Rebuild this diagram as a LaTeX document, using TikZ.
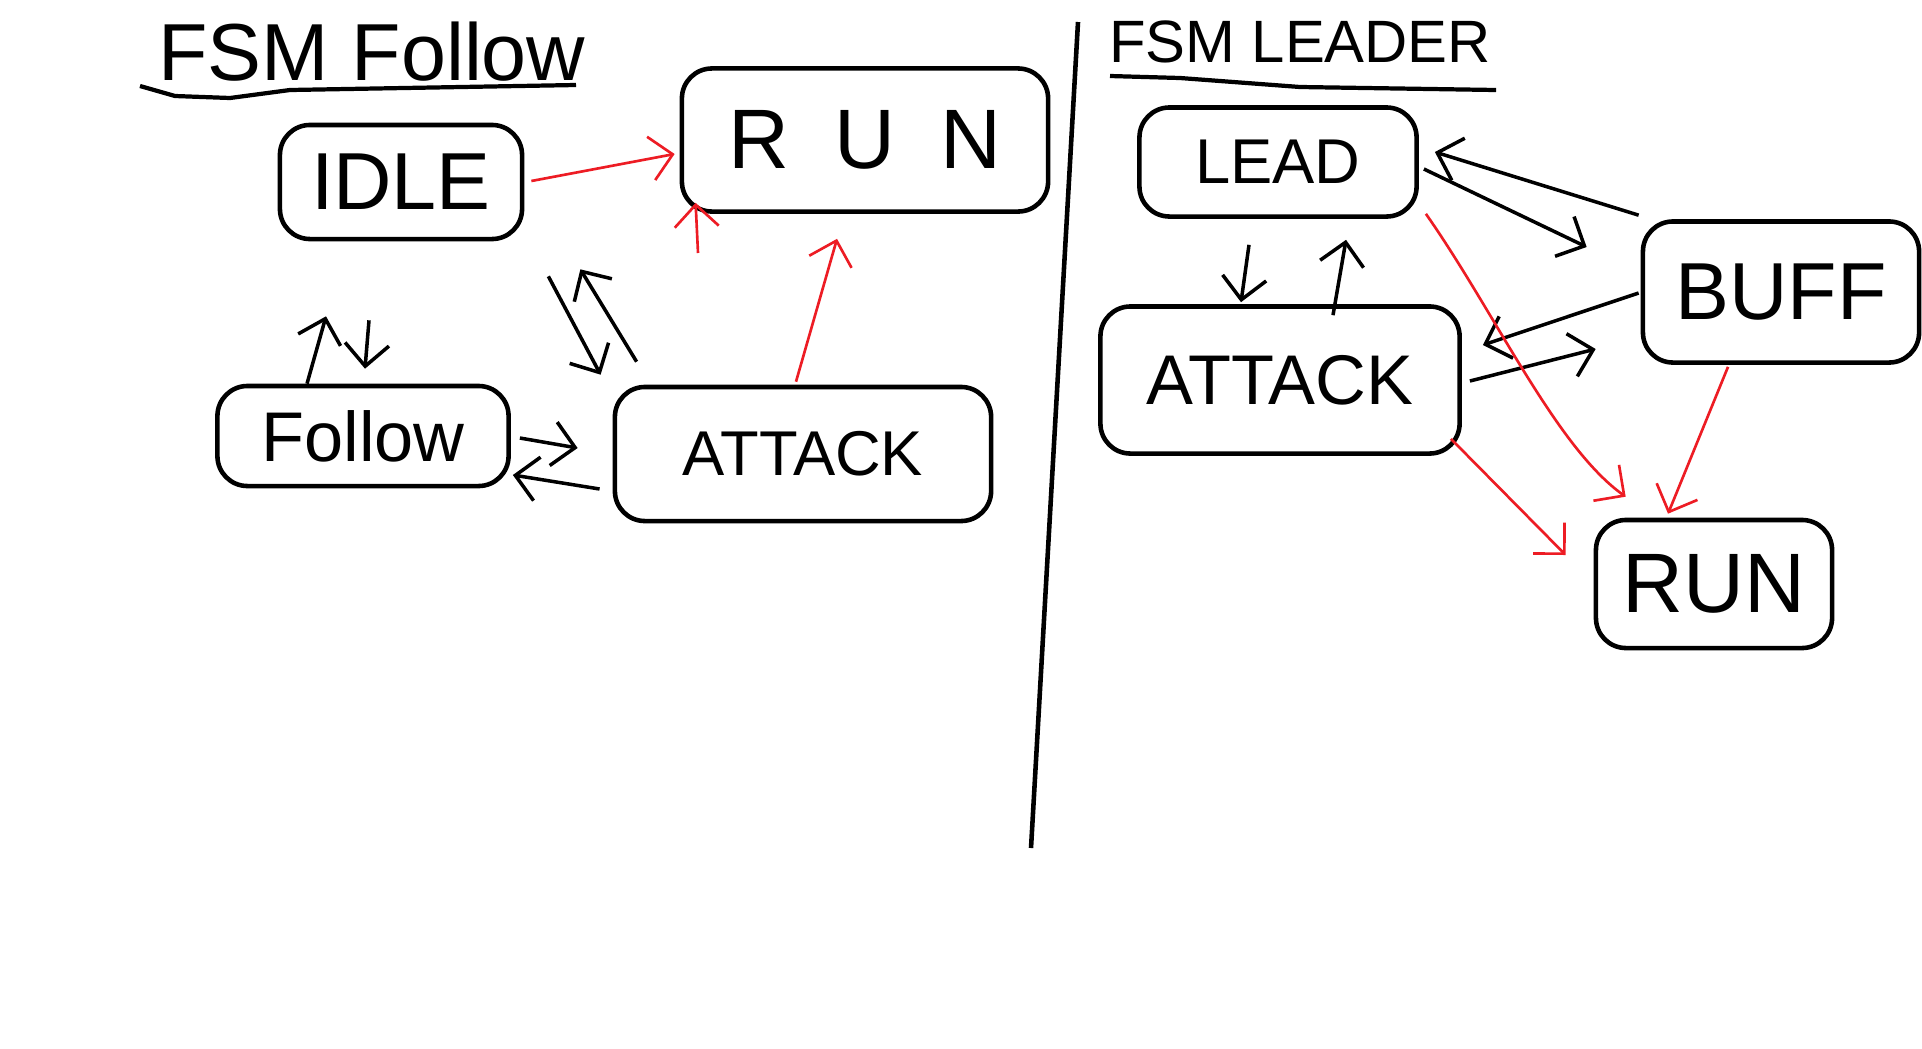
\documentclass[tikz,border=0pt]{standalone}
\usepackage{fontspec}
\setmainfont{Liberation Sans}
\usetikzlibrary{arrows.meta,calc,positioning}
\definecolor{paintred}{RGB}{237,28,36}
\newcommand{\handfont}[1]{\fontsize{#1}{#1}\selectfont}
\tikzset{
	state/.style={draw, line width=1.3pt, rounded corners=0.3cm, inner sep=0pt},
	pen/.style={line width=1pt, -{Straight Barb[length=2.2mm,width=4.4mm]}},
	redpen/.style={pen, draw=paintred, line width=0.75pt},
	rule/.style={line width=1.2pt}
}

\begin{document}
\begin{tikzpicture}[x=0.01cm, y=-0.01cm]
	\path[fill=white] (0,0) rectangle (1922,1048);

	% follower machine
	\node[font=\handfont{23}] (titleF) at (372,52) {FSM Follow};
	\draw[rule] (140,86) -- (175,96) -- (230,98) -- (290,90) -- (576,85);

	\node[state, minimum width=2.42cm, minimum height=1.14cm, font=\handfont{23}] (idle) at (401,182) {IDLE};
	\node[state, minimum width=3.66cm, minimum height=1.43cm, font=\handfont{24}\addfontfeature{LetterSpace=54}] (runF) at (865,140) {RUN};
	\node[state, minimum width=2.91cm, minimum height=1.00cm, font=\handfont{20}] (follow) at (363,436) {Follow};
	\node[state, minimum width=3.76cm, minimum height=1.34cm, font=\handfont{18}] (attackF) at (803,454) {ATTACK};

	\coordinate (stub) at (698,253);
	\draw[redpen] ($(idle.east)+(7,-1)$) -- ($(runF.west)+(-5,14)$);
	\draw[redpen] (stub) -- ($(runF.south west)+(16,-11)$);
	\draw[redpen] ($(attackF.north)+(-7,-3)$) -- ($(runF.south)+(-28,25)$);
	\draw[pen] ($(idle.south east)+(24,35)$) -- ($(attackF.north west)+(-12,-10)$);
	\draw[pen] ($(attackF.north west)+(24,-23)$) -- ($(idle.south east)+(56,28)$);
	\draw[pen] ($(follow.north)+(-56,0)$) -- ($(idle.south)+(-75,75)$);
	\draw[pen] ($(idle.south)+(-32,79)$) -- ($(follow.north)+(2,-15)$);
	\draw[pen] ($(follow.east)+(9,2)$) -- ($(attackF.west)+(-35,-6)$);
	\draw[pen] ($(attackF.west)+(-13,35)$) -- ($(follow.east)+(2,39)$);

	\draw[line width=1.3pt] (1078,22) -- (1031,848);

	% leader machine
	\node[font=\handfont{17}] (titleL) at (1300,42) {FSM LEADER};
	\draw[rule] (1110,76) -- (1180,78) -- (1300,87) -- (1496,90);

	\node[state, minimum width=2.77cm, minimum height=1.09cm, font=\handfont{18}] (lead) at (1278,162) {LEAD};
	\node[state, minimum width=2.76cm, minimum height=1.41cm, font=\handfont{23}] (buff) at (1781,292) {BUFF};
	\node[state, minimum width=3.59cm, minimum height=1.47cm, font=\handfont{20}] (attackL) at (1280,380) {ATTACK};
	\node[state, minimum width=2.36cm, minimum height=1.28cm, font=\handfont{24}] (runL) at (1714,584) {RUN};

	\draw[pen] ($(buff.north west)+(-2,-4)$) -- ($(lead.east)+(16,-10)$);
	\draw[pen] ($(lead.east)+(5,7)$) -- ($(buff.west)+(-54,-45)$);
	\draw[pen] ($(lead.south)+(-29,26)$) -- ($(attackL.north)+(-39,-2)$);
	\draw[pen] ($(attackL.north)+(53,11)$) -- ($(lead.south)+(68,21)$);
	\draw[pen] ($(buff.west)+(-2,1)$) -- ($(attackL.east)+(21,-35)$);
	\draw[pen] ($(attackL.east)+(8,1)$) -- ($(buff.west)+(-45,57)$);
	\draw[redpen] ($(lead.south east)+(7,-5)$) .. controls +(70,100) and +(-70,-50) .. ($(runL.north west)+(32,-21)$);
	\draw[redpen] ($(buff.south)+(-53,2)$) -- ($(runL.north)+(-46,-4)$);
	\draw[redpen] ($(attackL.south east)+(-11,-17)$) -- ($(runL.west)+(-28,-29)$);
\end{tikzpicture}
\end{document}
